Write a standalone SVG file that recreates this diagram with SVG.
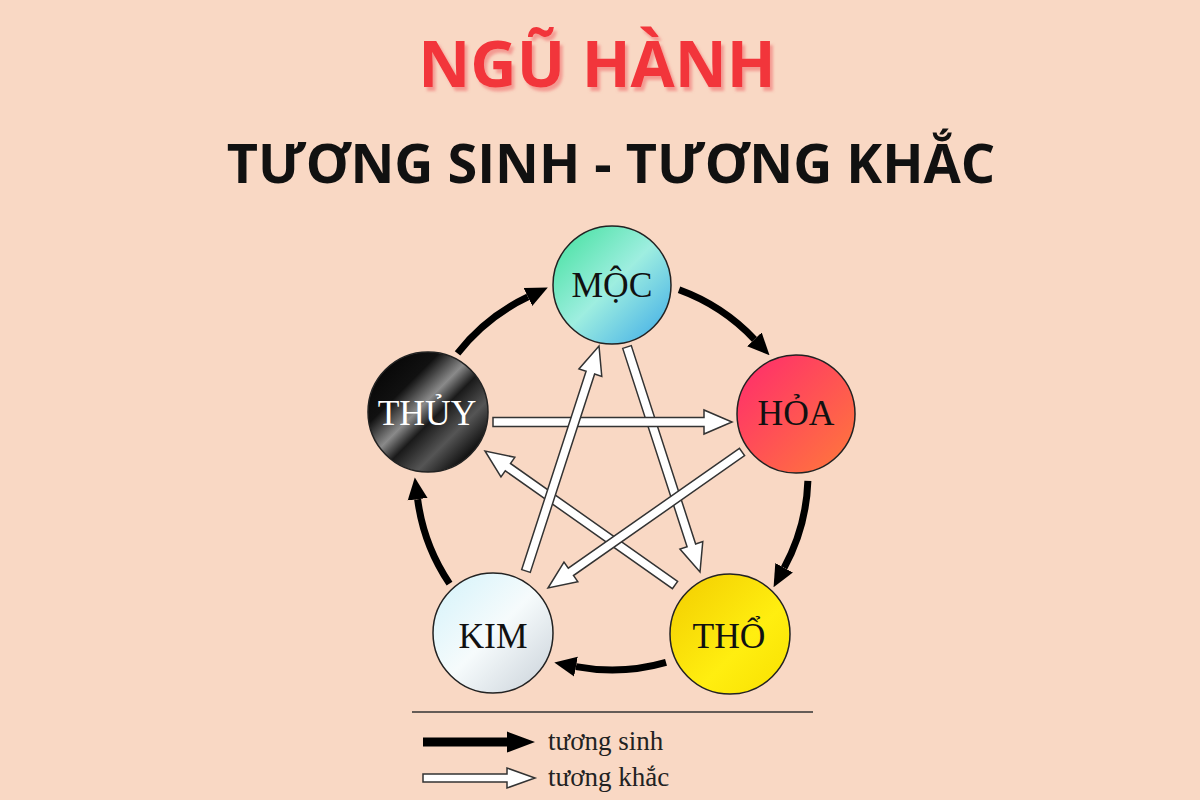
<svg xmlns="http://www.w3.org/2000/svg" width="1200" height="800" viewBox="0 0 1200 800">
<style>
.title{font-family:"Open Sans","Liberation Sans",sans-serif;font-weight:700;text-anchor:middle}
.lbl{font-family:"Liberation Serif","DejaVu Serif",serif;font-size:35.5px;text-anchor:middle}
.leg{font-family:"Liberation Serif","DejaVu Serif",serif;font-size:27px;fill:#222}
.node{stroke:#222;stroke-width:1.5}
.sinh{fill:none;stroke:#000;stroke-width:7;marker-end:url(#bh)}
.khac{fill:#fff;stroke:#333;stroke-width:1.5;stroke-linejoin:miter}
</style>
<defs>
<filter id="shadow" x="-10%" y="-20%" width="120%" height="150%">
<feDropShadow dx="3" dy="4" stdDeviation="1.5" flood-color="#f07070" flood-opacity="0.6"/>
</filter>
<marker id="bh" markerUnits="userSpaceOnUse" markerWidth="22" markerHeight="22" refX="0" refY="10" orient="auto" viewBox="0 0 22 20"><path d="M0,0 L22,10 L0,20 z" fill="#000"/></marker>
<linearGradient id="gMoc" x1="0" y1="0" x2="1" y2="1">
<stop offset="0" stop-color="#3ee09a"/><stop offset="0.5" stop-color="#9eeee0"/><stop offset="1" stop-color="#3aa8e8"/></linearGradient>
<linearGradient id="gHoa" x1="0" y1="0" x2="1" y2="1">
<stop offset="0" stop-color="#ff2a6e"/><stop offset="1" stop-color="#ff7a3a"/></linearGradient>
<linearGradient id="gTho" x1="0" y1="0" x2="1" y2="1">
<stop offset="0" stop-color="#f2cc00"/><stop offset="0.6" stop-color="#ffee10"/><stop offset="1" stop-color="#f8e000"/></linearGradient>
<linearGradient id="gKim" x1="0" y1="0" x2="1" y2="1">
<stop offset="0" stop-color="#d2f2fa"/><stop offset="0.5" stop-color="#f6fbfc"/><stop offset="1" stop-color="#c8d0d8"/></linearGradient>
<linearGradient id="gThuy" x1="0" y1="0" x2="1" y2="1">
<stop offset="0" stop-color="#000"/><stop offset="0.3" stop-color="#111"/><stop offset="0.45" stop-color="#8a8a8a"/><stop offset="0.55" stop-color="#1a1a1a"/><stop offset="0.7" stop-color="#555"/><stop offset="0.85" stop-color="#111"/><stop offset="1" stop-color="#000"/></linearGradient>
</defs>
<rect width="1200" height="800" fill="#F9D8C4"/>
<g id="title">
<text class="title" x="597" y="87" font-size="64" fill="#F2363A" filter="url(#shadow)">NGŨ HÀNH</text>
<text class="title" x="611" y="183" font-size="54" fill="#111">TƯƠNG SINH - TƯƠNG KHẮC</text>
</g>
<g id="connectors">
<path class="sinh" d="M457.55,353.32 A196,196 0 0 1 527.93,296.95"/>
<path class="sinh" d="M679.03,289.82 A196,196 0 0 1 754.41,339.33"/>
<path class="sinh" d="M807.88,480.84 A196,196 0 0 1 784.09,567.83"/>
<path class="sinh" d="M666.02,662.41 A196,196 0 0 1 575.94,666.65"/>
<path class="sinh" d="M449.52,583.60 A196,196 0 0 1 417.63,499.24"/>
<polygon class="khac" points="622.72,348.39 687.08,546.75 679.94,549.06 700,572 702.78,541.66 695.64,543.97 631.28,345.61"/>
<polygon class="khac" points="677.59,581.32 510.47,463.46 514.80,457.33 485,451 500.96,476.95 505.29,470.82 672.41,588.68"/>
<polygon class="khac" points="493,426.5 704,426.5 704,434 732,422 704,410 704,417.5 493,417.5"/>
<polygon class="khac" points="739.41,448.32 568.30,568.19 563.98,562.06 548,588 577.80,581.68 573.48,575.55 744.59,455.68"/>
<polygon class="khac" points="530.28,572.39 594.64,374.03 601.78,376.34 599,346 578.94,368.94 586.08,371.25 521.72,569.61"/>
</g>
<g id="moc"><circle class="node" cx="612" cy="285" r="59" fill="url(#gMoc)"/><text class="lbl" x="612" y="297" fill="#111">MỘC</text></g>
<g id="hoa"><circle class="node" cx="796" cy="414" r="59" fill="url(#gHoa)"/><text class="lbl" x="796" y="425" fill="#111">HỎA</text></g>
<g id="tho"><circle class="node" cx="730" cy="634" r="60" fill="url(#gTho)"/><text class="lbl" x="729" y="648" fill="#111">THỔ</text></g>
<g id="kim"><circle class="node" cx="493" cy="633" r="60" fill="url(#gKim)"/><text class="lbl" x="493" y="648" fill="#111">KIM</text></g>
<g id="thuy"><circle class="node" cx="428" cy="412" r="60" fill="url(#gThuy)"/><text class="lbl" x="427" y="425" fill="#fff">THỦY</text></g>
<g id="legend">
<line x1="412" y1="712" x2="813" y2="712" stroke="#333" stroke-width="1.5"/>
<polygon points="423,737.5 507,737.5 507,731.5 535,742 507,752.5 507,746.5 423,746.5" fill="#000"/>
<text class="leg" x="548" y="750">tương sinh</text>
<polygon points="423,774 507,774 507,768 535,778 507,788 507,782 423,782" fill="#fff" stroke="#333" stroke-width="1.5"/>
<text class="leg" x="548" y="786">tương khắc</text>
</g>
</svg>
